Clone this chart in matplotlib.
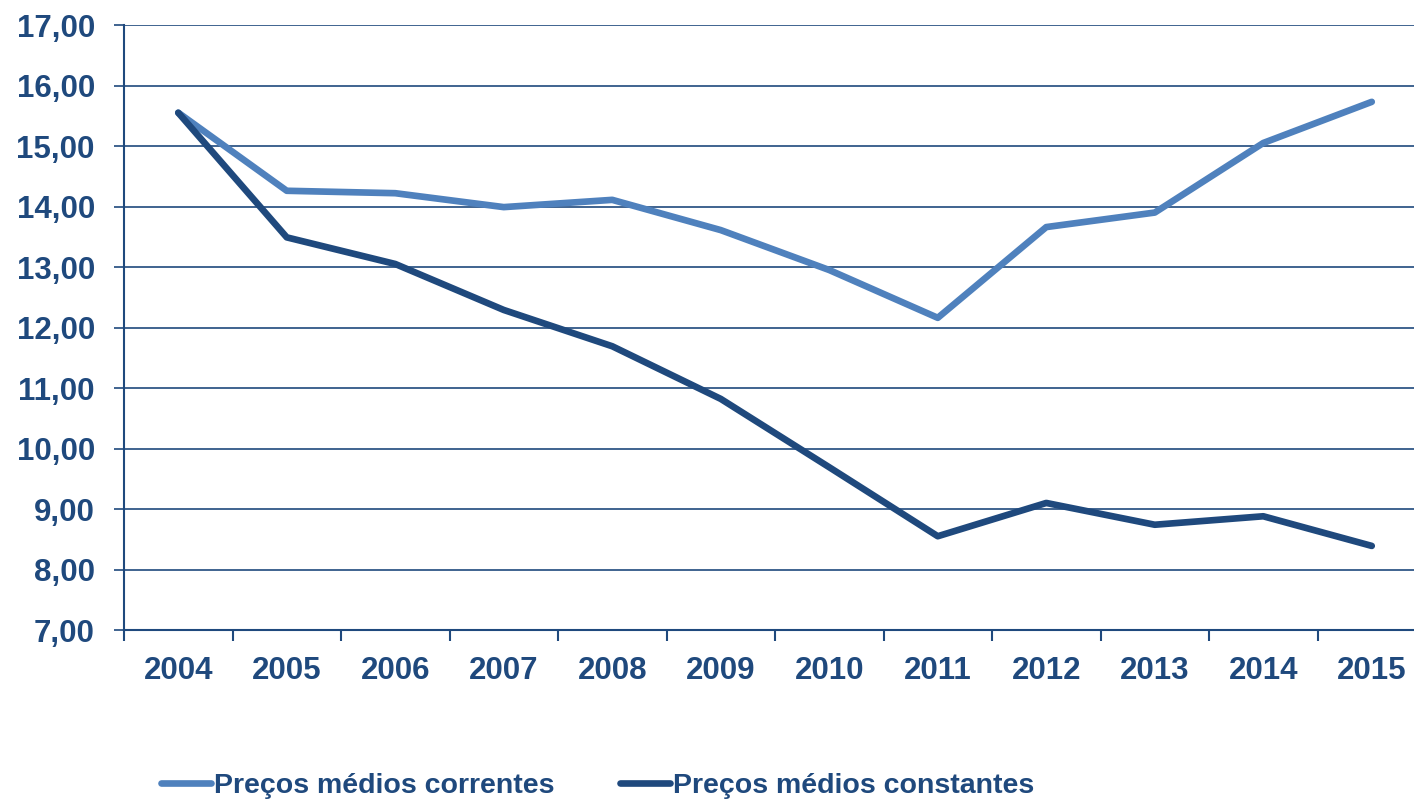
import matplotlib.pyplot as plt

plt.rcParams['font.family'] = ['Liberation Sans', 'DejaVu Sans']
plt.rcParams['font.weight'] = 'bold'

anos = ['2004', '2005', '2006', '2007', '2008', '2009',
        '2010', '2011', '2012', '2013', '2014', '2015']
correntes = [15.55, 14.26, 14.22, 13.99, 14.11, 13.61,
             12.95, 12.16, 13.66, 13.90, 15.05, 15.73]
constantes = [15.55, 13.49, 13.05, 12.29, 11.69, 10.82,
              9.69, 8.55, 9.10, 8.74, 8.88, 8.39]

azul_claro = '#4f81bd'
azul_escuro = '#1f497d'

fig = plt.figure(figsize=(14.14, 7.99), dpi=100)
# o eixo continua para lá da margem direita, como no original
ax = fig.add_axes([0.0877, 0.2115, 0.9208, 0.7572])

x = range(len(anos))
ax.plot(x, correntes, color=azul_claro, lw=4.8, solid_capstyle='round',
        solid_joinstyle='round', label='Preços médios correntes', zorder=3)
ax.plot(x, constantes, color=azul_escuro, lw=4.8, solid_capstyle='round',
        solid_joinstyle='round', label='Preços médios constantes', zorder=3)

ax.set_xlim(-0.5, len(anos) - 0.5)
ax.set_ylim(7, 17)
ax.set_yticks(range(7, 18))
ax.set_yticklabels([f'{v},00' for v in range(7, 18)])
ax.set_xticks(x)
ax.set_xticklabels(anos)
ax.set_xticks([i - 0.5 for i in range(len(anos) + 1)], minor=True)

ax.grid(axis='y', color=azul_escuro, lw=1.2)
ax.set_axisbelow(True)
for s in ['top', 'right']:
    ax.spines[s].set_visible(False)
for s in ['left', 'bottom']:
    ax.spines[s].set_color(azul_escuro)
    ax.spines[s].set_linewidth(1.5)

ax.tick_params(axis='y', colors=azul_escuro, labelsize=22.5, length=7,
               width=1.2, pad=14)
ax.tick_params(axis='x', which='major', length=0, colors=azul_escuro,
               labelsize=22.5, pad=19)
ax.tick_params(axis='x', which='minor', length=8, width=1.5,
               color=azul_escuro)

leg = fig.legend(loc='lower left', bbox_to_anchor=(0.096, -0.032), ncol=2,
                 frameon=False, fontsize=20.5, handlelength=1.75,
                 handletextpad=0.1, columnspacing=2.3)
for t in leg.get_texts():
    t.set_color(azul_escuro)

fig.savefig('out.png', dpi=100)
